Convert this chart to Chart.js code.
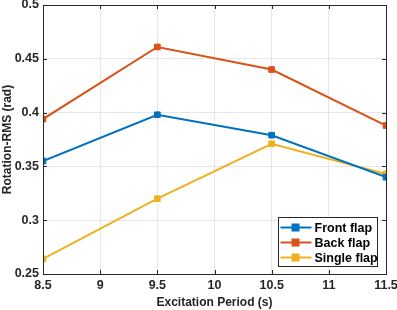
<!DOCTYPE html>
<html>
<head>
<meta charset="utf-8">
<script src="https://cdn.jsdelivr.net/npm/chart.js@4"></script>
<style>
  html, body { margin: 0; padding: 0; background: #fff; }
  #wrap { width: 397px; height: 310px; }
</style>
</head>
<body>
<div id="wrap"><canvas id="rms"></canvas></div>
<script>
// periods (s)
var periods = [8.5, 9.5, 10.5, 11.5];
var frontFlap = [0.355, 0.398, 0.379, 0.340];
var backFlap = [0.394, 0.461, 0.440, 0.388];
var singleFlap = [0.264, 0.320, 0.371, 0.343];
var xTicks = [8.5, 9, 9.5, 10, 10.5, 11, 11.5];
var yTicks = [0.25, 0.3, 0.35, 0.4, 0.45, 0.5];

var fontFam = "'Liberation Sans', Arial, Helvetica, sans-serif";

function pts(ys) {
    return periods.map(function (x, i) { return { x: x, y: ys[i] }; });
}

function series(label, ys, color) {
    return {
        label: label,
        data: pts(ys),
        borderColor: color,
        backgroundColor: color,
        borderWidth: 2,
        pointStyle: "rect",
        pointRadius: 4,
        pointHoverRadius: 4,
        pointBorderWidth: 1,
        tension: 0,
    };
}

// box, inward ticks and legend drawn inside the axes, matlab style
var matlabBox = {
    id: "matlabBox",
    afterDraw: function (chart) {
        var c = chart.ctx, a = chart.chartArea;
        var xs = chart.scales.x, ys = chart.scales.y;
        c.save();
        c.strokeStyle = "#262626";
        c.lineWidth = 1;
        c.beginPath();
        xTicks.forEach(function (t) {
            var px = Math.round(xs.getPixelForValue(t)) + 0.5;
            c.moveTo(px, a.bottom); c.lineTo(px, a.bottom - 4);
            c.moveTo(px, a.top); c.lineTo(px, a.top + 4);
        });
        yTicks.forEach(function (t) {
            var py = Math.round(ys.getPixelForValue(t)) + 0.5;
            c.moveTo(a.left, py); c.lineTo(a.left + 4, py);
            c.moveTo(a.right, py); c.lineTo(a.right - 4, py);
        });
        c.stroke();
        c.strokeRect(Math.round(a.left) + 0.5, Math.round(a.top) + 0.5,
            Math.round(a.right - a.left), Math.round(a.bottom - a.top));

        // legend
        var lx = 278.5, ly = 217.5, lw = 99, lh = 49;
        c.fillStyle = "#fff";
        c.fillRect(lx, ly, lw, lh);
        c.strokeStyle = "#262626";
        c.strokeRect(lx, ly, lw, lh);
        c.font = "bold 12.5px " + fontFam;
        c.textBaseline = "middle";
        chart.data.datasets.forEach(function (ds, i) {
            var yy = ly + 10 + i * 15;
            c.strokeStyle = ds.borderColor;
            c.lineWidth = 2;
            c.beginPath();
            c.moveTo(lx + 2, yy); c.lineTo(lx + 33, yy);
            c.stroke();
            c.fillStyle = ds.borderColor;
            c.fillRect(lx + 13, yy - 4, 8, 8);
            c.fillStyle = "#000";
            c.fillText(ds.label, lx + 36, yy + 1);
        });
        c.restore();
    },
};

document.addEventListener("DOMContentLoaded", function () {
    var ctx = document.getElementById("rms").getContext("2d");
    new Chart(ctx, {
        type: "line",
        data: {
            datasets: [
                series("Front flap", frontFlap, "#0072BD"),
                series("Back flap", backFlap, "#D95319"),
                series("Single flap", singleFlap, "#EDB120"),
            ],
        },
        plugins: [matlabBox],
        options: {
            responsive: true,
            maintainAspectRatio: false,
            animation: false,
            layout: { padding: { top: 5, right: 11, left: 0, bottom: 0 } },
            scales: {
                x: {
                    type: "linear",
                    min: 8.5,
                    max: 11.5,
                    afterBuildTicks: function (s) {
                        s.ticks = xTicks.map(function (v) { return { value: v }; });
                    },
                    afterFit: function (s) {
                        s.height = 36;
                        s.paddingLeft = 0;
                        s.paddingRight = 0;
                    },
                    grid: { color: "#e6e6e6", drawTicks: false },
                    border: { display: false },
                    ticks: {
                        padding: 4,
                        color: "#262626",
                        font: { family: fontFam, size: 12.5, weight: "bold" },
                        callback: function (v) { return String(v); },
                    },
                    title: {
                        display: true,
                        text: "Excitation Period (s)",
                        color: "#262626",
                        padding: { top: 0, bottom: 0 },
                        font: { family: fontFam, size: 12, weight: "bold" },
                    },
                },
                y: {
                    type: "linear",
                    min: 0.25,
                    max: 0.5,
                    afterBuildTicks: function (s) {
                        s.ticks = yTicks.map(function (v) { return { value: v }; });
                    },
                    afterFit: function (s) {
                        s.width = 43;
                        s.paddingTop = 0;
                        s.paddingBottom = 0;
                    },
                    grid: { color: "#e6e6e6", drawTicks: false },
                    border: { display: false },
                    ticks: {
                        padding: 4,
                        color: "#262626",
                        font: { family: fontFam, size: 12.5, weight: "bold" },
                        callback: function (v) { return String(+v.toFixed(2)); },
                    },
                    title: {
                        display: true,
                        text: "Rotation-RMS (rad)",
                        color: "#262626",
                        padding: { top: 0, bottom: 1 },
                        font: { family: fontFam, size: 12, weight: "bold" },
                    },
                },
            },
            plugins: {
                legend: { display: false },
                tooltip: { enabled: false },
            },
        },
    });
});
</script>
</body>
</html>
